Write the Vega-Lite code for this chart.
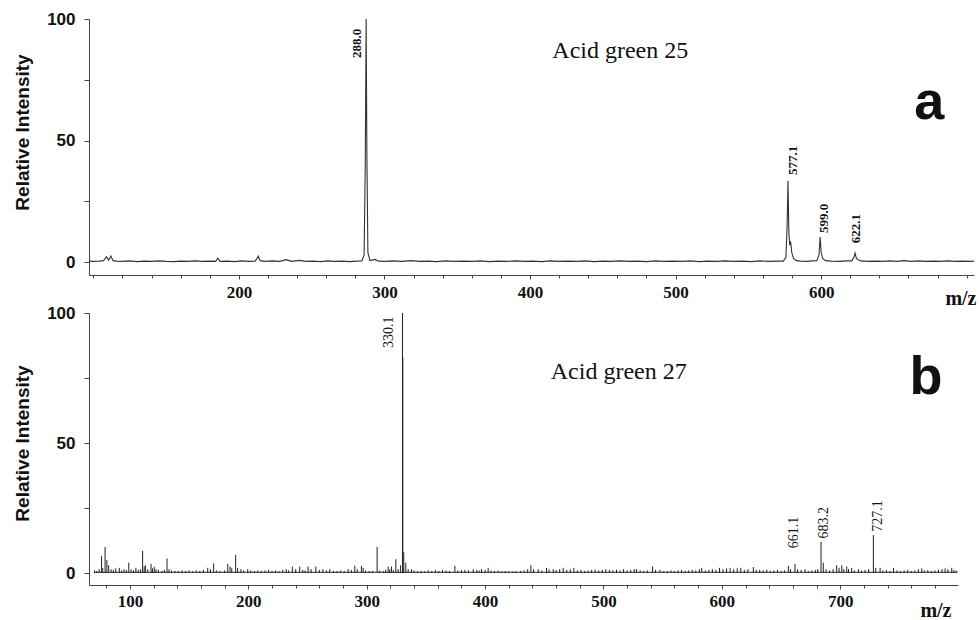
{
  "$schema": "https://vega.github.io/schema/vega-lite/v6.json",
  "background": "white",
  "padding": {"left": 13, "top": 10, "right": 0, "bottom": 0},
  "spacing": 38,
  "bounds": "flush",
  "config": {
    "view": {"stroke": null},
    "axis": {
      "grid": false,
      "domainColor": "#444",
      "tickColor": "#444",
      "labelColor": "#111",
      "titleColor": "#111",
      "labelFlush": false
    }
  },
  "datasets": {
    "specA": [
      {"mz": 97, "intensity": 0.5}, {"mz": 100, "intensity": 0.3}, {"mz": 104, "intensity": 0.4}, {"mz": 107, "intensity": 0.6},
      {"mz": 109, "intensity": 2.2}, {"mz": 110.5, "intensity": 0.8}, {"mz": 112, "intensity": 2.5}, {"mz": 113.5, "intensity": 0.6},
      {"mz": 116, "intensity": 0.4}, {"mz": 120, "intensity": 0.3}, {"mz": 125, "intensity": 0.5}, {"mz": 130, "intensity": 0.2},
      {"mz": 135, "intensity": 0.4}, {"mz": 140, "intensity": 0.3}, {"mz": 145, "intensity": 0.5}, {"mz": 150, "intensity": 0.3},
      {"mz": 155, "intensity": 0.2}, {"mz": 160, "intensity": 0.4}, {"mz": 165, "intensity": 0.3}, {"mz": 170, "intensity": 0.5},
      {"mz": 175, "intensity": 0.3}, {"mz": 180, "intensity": 0.4}, {"mz": 184, "intensity": 0.3}, {"mz": 185.5, "intensity": 1.6},
      {"mz": 187, "intensity": 0.3}, {"mz": 192, "intensity": 0.4}, {"mz": 197, "intensity": 0.2}, {"mz": 202, "intensity": 0.5},
      {"mz": 207, "intensity": 0.3}, {"mz": 211, "intensity": 0.4}, {"mz": 212.5, "intensity": 1.5}, {"mz": 213.3, "intensity": 2.5},
      {"mz": 214.5, "intensity": 0.6}, {"mz": 218, "intensity": 0.3}, {"mz": 223, "intensity": 0.5}, {"mz": 228, "intensity": 0.3},
      {"mz": 232.5, "intensity": 1.0}, {"mz": 236, "intensity": 0.3}, {"mz": 241.5, "intensity": 0.7}, {"mz": 246, "intensity": 0.3},
      {"mz": 251, "intensity": 0.4}, {"mz": 256, "intensity": 0.2}, {"mz": 261, "intensity": 0.5}, {"mz": 266, "intensity": 0.3},
      {"mz": 271, "intensity": 0.4}, {"mz": 276, "intensity": 0.2}, {"mz": 281, "intensity": 0.4}, {"mz": 284.5, "intensity": 0.5},
      {"mz": 286, "intensity": 3}, {"mz": 286.8, "intensity": 40}, {"mz": 287.4, "intensity": 100}, {"mz": 287.9, "intensity": 45},
      {"mz": 288.6, "intensity": 4}, {"mz": 290, "intensity": 0.6}, {"mz": 293.5, "intensity": 1.1}, {"mz": 296, "intensity": 0.4},
      {"mz": 300, "intensity": 0.3}, {"mz": 306, "intensity": 0.5}, {"mz": 312, "intensity": 0.3}, {"mz": 318, "intensity": 0.6},
      {"mz": 324, "intensity": 0.3}, {"mz": 330, "intensity": 0.4}, {"mz": 336, "intensity": 0.2}, {"mz": 342, "intensity": 0.5},
      {"mz": 348, "intensity": 0.3}, {"mz": 354, "intensity": 0.4}, {"mz": 360, "intensity": 0.3}, {"mz": 366, "intensity": 0.5},
      {"mz": 372, "intensity": 0.2}, {"mz": 378, "intensity": 0.4}, {"mz": 384, "intensity": 0.3}, {"mz": 390, "intensity": 0.5},
      {"mz": 396, "intensity": 0.3}, {"mz": 402, "intensity": 0.4}, {"mz": 408, "intensity": 0.2}, {"mz": 414, "intensity": 0.5},
      {"mz": 420, "intensity": 0.3}, {"mz": 426, "intensity": 0.4}, {"mz": 432, "intensity": 0.3}, {"mz": 438, "intensity": 0.5},
      {"mz": 444, "intensity": 0.2}, {"mz": 450, "intensity": 0.4}, {"mz": 456, "intensity": 0.3}, {"mz": 462, "intensity": 0.5},
      {"mz": 468, "intensity": 0.3}, {"mz": 474, "intensity": 0.4}, {"mz": 480, "intensity": 0.2}, {"mz": 486, "intensity": 0.5},
      {"mz": 492, "intensity": 0.3}, {"mz": 498, "intensity": 0.4}, {"mz": 504, "intensity": 0.3}, {"mz": 510, "intensity": 0.5},
      {"mz": 516, "intensity": 0.2}, {"mz": 522, "intensity": 0.4}, {"mz": 528, "intensity": 0.3}, {"mz": 534, "intensity": 0.5},
      {"mz": 540, "intensity": 0.3}, {"mz": 546, "intensity": 0.4}, {"mz": 552, "intensity": 0.2}, {"mz": 558, "intensity": 0.5},
      {"mz": 564, "intensity": 0.3}, {"mz": 570, "intensity": 0.4}, {"mz": 574, "intensity": 0.4}, {"mz": 575.8, "intensity": 2},
      {"mz": 576.6, "intensity": 15}, {"mz": 577.2, "intensity": 33.5}, {"mz": 577.8, "intensity": 12}, {"mz": 578.4, "intensity": 7},
      {"mz": 579, "intensity": 8.5}, {"mz": 579.8, "intensity": 4}, {"mz": 581, "intensity": 1.5}, {"mz": 583, "intensity": 0.6},
      {"mz": 586, "intensity": 0.4}, {"mz": 590, "intensity": 0.3}, {"mz": 594, "intensity": 0.5}, {"mz": 597, "intensity": 0.6},
      {"mz": 598.5, "intensity": 3}, {"mz": 599.3, "intensity": 10.3}, {"mz": 600, "intensity": 4}, {"mz": 601, "intensity": 1.5},
      {"mz": 603, "intensity": 0.6}, {"mz": 607, "intensity": 0.4}, {"mz": 612, "intensity": 0.3}, {"mz": 617, "intensity": 0.5},
      {"mz": 621, "intensity": 0.5}, {"mz": 622.5, "intensity": 2}, {"mz": 623.3, "intensity": 3.7}, {"mz": 624.2, "intensity": 1.5},
      {"mz": 625.5, "intensity": 1}, {"mz": 627, "intensity": 0.5}, {"mz": 632, "intensity": 0.3}, {"mz": 637, "intensity": 0.4},
      {"mz": 642, "intensity": 0.3}, {"mz": 647, "intensity": 0.5}, {"mz": 652, "intensity": 0.3}, {"mz": 657, "intensity": 0.6},
      {"mz": 662, "intensity": 0.3}, {"mz": 667, "intensity": 0.5}, {"mz": 672, "intensity": 0.3}, {"mz": 677, "intensity": 0.4},
      {"mz": 682, "intensity": 0.3}, {"mz": 687, "intensity": 0.5}, {"mz": 692, "intensity": 0.3}, {"mz": 697, "intensity": 0.4},
      {"mz": 702, "intensity": 0.3}, {"mz": 705, "intensity": 0.4}
    ],
    "labelsA": [
      {"label": "288.0", "mz": 281.2, "intensity": 84},
      {"label": "577.1", "mz": 580.8, "intensity": 35.8},
      {"label": "599.0", "mz": 602, "intensity": 12},
      {"label": "622.1", "mz": 623.8, "intensity": 7.8}
    ],
    "notesA": [
      {"text": "Acid green 25", "mz": 415.3, "intensity": 87, "kind": "name"},
      {"text": "a", "mz": 674.2, "intensity": 65.4, "kind": "panel"}
    ],
    "baseB": [
      {"mz": 70, "intensity": 0.3}, {"mz": 799, "intensity": 0.3}
    ],
    "specB": [
      {"mz": 70, "intensity": 1.0}, {"mz": 72, "intensity": 0.8}, {"mz": 74, "intensity": 1.5}, {"mz": 76, "intensity": 6.5},
      {"mz": 77, "intensity": 2}, {"mz": 79, "intensity": 10}, {"mz": 80.5, "intensity": 5}, {"mz": 82, "intensity": 3},
      {"mz": 84, "intensity": 1.5}, {"mz": 86, "intensity": 1.2}, {"mz": 88, "intensity": 1.8}, {"mz": 91, "intensity": 2},
      {"mz": 93, "intensity": 1}, {"mz": 95, "intensity": 1.5}, {"mz": 97, "intensity": 1.2}, {"mz": 99, "intensity": 4},
      {"mz": 101, "intensity": 1.5}, {"mz": 103, "intensity": 1}, {"mz": 105, "intensity": 2}, {"mz": 107, "intensity": 1.3},
      {"mz": 109, "intensity": 1.5}, {"mz": 110.7, "intensity": 8.5}, {"mz": 112, "intensity": 2.5}, {"mz": 113, "intensity": 3},
      {"mz": 115, "intensity": 1.5}, {"mz": 117.8, "intensity": 3.5}, {"mz": 119, "intensity": 1.8}, {"mz": 120.5, "intensity": 2.5},
      {"mz": 122, "intensity": 1.5}, {"mz": 124, "intensity": 1.2}, {"mz": 127, "intensity": 0.8}, {"mz": 129, "intensity": 1.2},
      {"mz": 131.3, "intensity": 5.6}, {"mz": 133, "intensity": 1.5}, {"mz": 135, "intensity": 1}, {"mz": 138, "intensity": 0.8},
      {"mz": 141, "intensity": 0.8}, {"mz": 144, "intensity": 1}, {"mz": 147, "intensity": 0.8}, {"mz": 150, "intensity": 1},
      {"mz": 153, "intensity": 0.7}, {"mz": 156, "intensity": 1}, {"mz": 159, "intensity": 0.8}, {"mz": 162, "intensity": 1.2},
      {"mz": 165.7, "intensity": 2}, {"mz": 168, "intensity": 1.5}, {"mz": 170.7, "intensity": 3.7}, {"mz": 173, "intensity": 1},
      {"mz": 176, "intensity": 0.8}, {"mz": 180, "intensity": 1}, {"mz": 182.6, "intensity": 3.5}, {"mz": 184.5, "intensity": 2.5},
      {"mz": 186, "intensity": 2}, {"mz": 189.3, "intensity": 7}, {"mz": 191, "intensity": 2}, {"mz": 193.8, "intensity": 1.5},
      {"mz": 196, "intensity": 1}, {"mz": 199.5, "intensity": 1.5}, {"mz": 202, "intensity": 1}, {"mz": 205, "intensity": 0.8},
      {"mz": 208, "intensity": 1}, {"mz": 211, "intensity": 0.8}, {"mz": 214, "intensity": 1}, {"mz": 217, "intensity": 1.2},
      {"mz": 220, "intensity": 0.8}, {"mz": 223, "intensity": 1}, {"mz": 226, "intensity": 0.7}, {"mz": 229, "intensity": 1.2},
      {"mz": 232, "intensity": 1.5}, {"mz": 234, "intensity": 1}, {"mz": 237.2, "intensity": 2.5}, {"mz": 240, "intensity": 1.5},
      {"mz": 243.4, "intensity": 2.5}, {"mz": 246, "intensity": 1.2}, {"mz": 248, "intensity": 1}, {"mz": 250.5, "intensity": 2.5},
      {"mz": 253, "intensity": 1.5}, {"mz": 257, "intensity": 2.5}, {"mz": 260, "intensity": 1.2}, {"mz": 263, "intensity": 1.5},
      {"mz": 266, "intensity": 1}, {"mz": 268.8, "intensity": 1.5}, {"mz": 272, "intensity": 0.8}, {"mz": 275, "intensity": 0.8},
      {"mz": 278, "intensity": 1}, {"mz": 281, "intensity": 0.8}, {"mz": 284.3, "intensity": 1.5}, {"mz": 287, "intensity": 1.2},
      {"mz": 289.9, "intensity": 2.8}, {"mz": 292, "intensity": 1.5}, {"mz": 295.5, "intensity": 2.8}, {"mz": 297, "intensity": 2},
      {"mz": 299, "intensity": 1}, {"mz": 302, "intensity": 0.8}, {"mz": 305, "intensity": 0.8}, {"mz": 308.8, "intensity": 10},
      {"mz": 311, "intensity": 1}, {"mz": 314, "intensity": 0.8}, {"mz": 316, "intensity": 1.2}, {"mz": 318.1, "intensity": 2.5},
      {"mz": 319.5, "intensity": 1.5}, {"mz": 320.9, "intensity": 2.5}, {"mz": 322.5, "intensity": 1.2}, {"mz": 324.6, "intensity": 5.3},
      {"mz": 326.5, "intensity": 1.5}, {"mz": 328.5, "intensity": 3}, {"mz": 330.2, "intensity": 100}, {"mz": 330.5, "intensity": 83},
      {"mz": 331.3, "intensity": 8}, {"mz": 333, "intensity": 4}, {"mz": 335, "intensity": 1.5}, {"mz": 337.8, "intensity": 1.5},
      {"mz": 340, "intensity": 1}, {"mz": 343, "intensity": 0.7}, {"mz": 346, "intensity": 0.8}, {"mz": 349, "intensity": 0.7},
      {"mz": 352, "intensity": 1}, {"mz": 355, "intensity": 0.8}, {"mz": 358, "intensity": 1.2}, {"mz": 361, "intensity": 0.8},
      {"mz": 364, "intensity": 1.2}, {"mz": 367, "intensity": 1}, {"mz": 370, "intensity": 0.8}, {"mz": 374.5, "intensity": 2.8},
      {"mz": 377, "intensity": 1}, {"mz": 380, "intensity": 1.2}, {"mz": 383, "intensity": 1.2}, {"mz": 386, "intensity": 1},
      {"mz": 390, "intensity": 1.5}, {"mz": 393, "intensity": 1.2}, {"mz": 395, "intensity": 1}, {"mz": 397, "intensity": 1.5},
      {"mz": 400, "intensity": 1.2}, {"mz": 402.6, "intensity": 2}, {"mz": 405, "intensity": 1}, {"mz": 408, "intensity": 0.8},
      {"mz": 411, "intensity": 1}, {"mz": 414, "intensity": 0.7}, {"mz": 417, "intensity": 0.8}, {"mz": 420, "intensity": 0.7},
      {"mz": 423, "intensity": 0.6}, {"mz": 426, "intensity": 0.7}, {"mz": 430, "intensity": 0.8}, {"mz": 433, "intensity": 1},
      {"mz": 436, "intensity": 1.5}, {"mz": 438.7, "intensity": 3}, {"mz": 441, "intensity": 1.5}, {"mz": 444.9, "intensity": 1.5},
      {"mz": 448, "intensity": 1}, {"mz": 451.9, "intensity": 2}, {"mz": 454, "intensity": 1.5}, {"mz": 457.6, "intensity": 1.5},
      {"mz": 460, "intensity": 1.2}, {"mz": 463, "intensity": 1.5}, {"mz": 466, "intensity": 2}, {"mz": 469, "intensity": 1.2},
      {"mz": 472, "intensity": 1.5}, {"mz": 475, "intensity": 2}, {"mz": 478, "intensity": 1}, {"mz": 481, "intensity": 1.2},
      {"mz": 484, "intensity": 0.8}, {"mz": 487, "intensity": 1}, {"mz": 490, "intensity": 1.2}, {"mz": 493, "intensity": 1.3},
      {"mz": 496, "intensity": 1}, {"mz": 499, "intensity": 1.2}, {"mz": 502, "intensity": 1.5}, {"mz": 505, "intensity": 1.2},
      {"mz": 508, "intensity": 1}, {"mz": 511, "intensity": 1.3}, {"mz": 514, "intensity": 1}, {"mz": 517, "intensity": 1.5},
      {"mz": 520, "intensity": 1}, {"mz": 523, "intensity": 1.2}, {"mz": 526, "intensity": 1.5}, {"mz": 528, "intensity": 1.5},
      {"mz": 531, "intensity": 1}, {"mz": 534, "intensity": 0.8}, {"mz": 537, "intensity": 1}, {"mz": 541.5, "intensity": 2.5},
      {"mz": 544, "intensity": 1.2}, {"mz": 547.7, "intensity": 1.2}, {"mz": 551, "intensity": 0.8}, {"mz": 554, "intensity": 0.8},
      {"mz": 557, "intensity": 1}, {"mz": 560, "intensity": 0.8}, {"mz": 563, "intensity": 1}, {"mz": 566, "intensity": 1.2},
      {"mz": 569, "intensity": 0.8}, {"mz": 572, "intensity": 1}, {"mz": 575, "intensity": 1.2}, {"mz": 578, "intensity": 1},
      {"mz": 581, "intensity": 1.5}, {"mz": 583, "intensity": 2}, {"mz": 586, "intensity": 1}, {"mz": 589, "intensity": 1.2},
      {"mz": 592, "intensity": 1.5}, {"mz": 595, "intensity": 1.2}, {"mz": 598, "intensity": 2}, {"mz": 601, "intensity": 1.5},
      {"mz": 604, "intensity": 1.8}, {"mz": 607, "intensity": 2}, {"mz": 610, "intensity": 1.5}, {"mz": 613, "intensity": 1.8},
      {"mz": 616, "intensity": 2}, {"mz": 619, "intensity": 1.2}, {"mz": 622, "intensity": 1.5}, {"mz": 626.6, "intensity": 2.3},
      {"mz": 629, "intensity": 1.3}, {"mz": 632, "intensity": 1.2}, {"mz": 635, "intensity": 1}, {"mz": 638, "intensity": 1.3},
      {"mz": 641, "intensity": 0.8}, {"mz": 644, "intensity": 1}, {"mz": 647, "intensity": 1.2}, {"mz": 650, "intensity": 0.8},
      {"mz": 653, "intensity": 1}, {"mz": 656.2, "intensity": 2.8}, {"mz": 658, "intensity": 1.5}, {"mz": 661.8, "intensity": 3.5},
      {"mz": 664, "intensity": 1.5}, {"mz": 667, "intensity": 1.2}, {"mz": 670.3, "intensity": 1.5}, {"mz": 673, "intensity": 0.8},
      {"mz": 676, "intensity": 1}, {"mz": 679, "intensity": 1.2}, {"mz": 681, "intensity": 1.5}, {"mz": 683.8, "intensity": 12},
      {"mz": 685.7, "intensity": 4}, {"mz": 688, "intensity": 1.5}, {"mz": 691, "intensity": 1}, {"mz": 694, "intensity": 1.5},
      {"mz": 697, "intensity": 3}, {"mz": 699, "intensity": 2}, {"mz": 701.3, "intensity": 3}, {"mz": 703, "intensity": 1.5},
      {"mz": 705.5, "intensity": 2.5}, {"mz": 707, "intensity": 1.5}, {"mz": 709.7, "intensity": 2}, {"mz": 712, "intensity": 1},
      {"mz": 715.4, "intensity": 1.5}, {"mz": 718, "intensity": 1}, {"mz": 721, "intensity": 1.2}, {"mz": 724, "intensity": 1.5},
      {"mz": 728, "intensity": 14.6}, {"mz": 730, "intensity": 2}, {"mz": 733.7, "intensity": 2}, {"mz": 736, "intensity": 1},
      {"mz": 739, "intensity": 1.2}, {"mz": 742, "intensity": 0.8}, {"mz": 745, "intensity": 2}, {"mz": 748, "intensity": 1},
      {"mz": 751, "intensity": 0.8}, {"mz": 754, "intensity": 1}, {"mz": 757, "intensity": 1.2}, {"mz": 760, "intensity": 0.8},
      {"mz": 763, "intensity": 1}, {"mz": 766, "intensity": 1.5}, {"mz": 768.9, "intensity": 1.8}, {"mz": 771, "intensity": 1},
      {"mz": 774, "intensity": 1.2}, {"mz": 777, "intensity": 0.8}, {"mz": 780, "intensity": 1}, {"mz": 783, "intensity": 1.2},
      {"mz": 786, "intensity": 1.5}, {"mz": 788.6, "intensity": 1.8}, {"mz": 791, "intensity": 1.5}, {"mz": 794.2, "intensity": 2},
      {"mz": 796, "intensity": 1.2}, {"mz": 798, "intensity": 1}
    ],
    "labelsB": [
      {"label": "330.1", "mz": 318.9, "intensity": 86.5},
      {"label": "661.1", "mz": 660.6, "intensity": 9.5},
      {"label": "683.2", "mz": 686.2, "intensity": 13.3},
      {"label": "727.1", "mz": 731.9, "intensity": 15.9}
    ],
    "notesB": [
      {"text": "Acid green 27", "mz": 455.5, "intensity": 77.4, "kind": "name"},
      {"text": "b", "mz": 772.4, "intensity": 69, "kind": "panel"}
    ]
  },
  "vconcat": [
    {
      "width": 885,
      "height": 256,
      "resolve": {"axis": {"x": "independent"}},
      "layer": [
        {
          "data": {"name": "specA"},
          "mark": {"type": "line", "color": "#333", "strokeWidth": 1.1, "interpolate": "linear"},
          "encoding": {
            "x": {
              "field": "mz", "type": "quantitative",
              "scale": {"domain": [97, 705], "nice": false, "zero": false},
              "axis": {
                "orient": "bottom",
                "values": [200, 300, 400, 500, 600],
                "labelOverlap": false,
                "tickSize": 4,
                "labelPadding": 5,
                "labelFont": "Liberation Serif",
                "labelFontWeight": "bold",
                "labelFontSize": 17,
                "title": "m/z",
                "titleFont": "Liberation Serif",
                "titleFontWeight": "bold",
                "titleFontSize": 20,
                "titleAlign": "right",
                "titleBaseline": "middle",
                "titleX": 887,
                "titleY": 23
              }
            },
            "y": {
              "field": "intensity", "type": "quantitative",
              "scale": {"domain": [-5.3, 100], "nice": false, "zero": false},
              "axis": {
                "values": [0, 25, 50, 75, 100],
                "labelExpr": "datum.value == 25 || datum.value == 75 ? '' : datum.label",
                "labelOverlap": false,
                "tickSize": 5,
                "labelPadding": 9,
                "labelFont": "Liberation Sans",
                "labelFontWeight": "bold",
                "labelFontSize": 17,
                "title": "Relative Intensity",
                "titleFont": "Liberation Sans",
                "titleFontWeight": "bold",
                "titleFontSize": 19,
                "titlePadding": 14,
                "titleY": 113
              }
            }
          }
        },
        {
          "data": {"name": "labelsA"},
          "mark": {"type": "text", "angle": 270, "align": "left", "baseline": "middle", "font": "Liberation Serif", "fontWeight": "bold", "fontSize": 13, "color": "#111"},
          "encoding": {
            "x": {
              "field": "mz", "type": "quantitative", "scale": {"domain": [97, 705], "nice": false, "zero": false},
              "axis": {
                "orient": "bottom",
                "values": [100,120,140,160,180,220,240,260,280,320,340,360,380,420,440,460,480,520,540,560,580,620,640,660,680,700],
                "labels": false,
                "domain": false,
                "title": null,
                "tickSize": 3
              }
            },
            "y": {"field": "intensity", "type": "quantitative", "scale": {"domain": [-5.3, 100], "nice": false, "zero": false}},
            "text": {"field": "label"}
          }
        },
        {
          "data": {"name": "notesA"},
          "transform": [{"filter": "datum.kind === 'name'"}],
          "mark": {"type": "text", "align": "left", "baseline": "middle", "font": "Liberation Serif", "fontSize": 24, "color": "#111"},
          "encoding": {
            "x": {"field": "mz", "type": "quantitative", "scale": {"domain": [97, 705], "nice": false, "zero": false}, "axis": null},
            "y": {"field": "intensity", "type": "quantitative", "scale": {"domain": [-5.3, 100], "nice": false, "zero": false}},
            "text": {"field": "text"}
          }
        },
        {
          "data": {"name": "notesA"},
          "transform": [{"filter": "datum.kind === 'panel'"}],
          "mark": {"type": "text", "align": "center", "baseline": "middle", "font": "Liberation Sans", "fontWeight": "bold", "fontSize": 54, "color": "#111"},
          "encoding": {
            "x": {"field": "mz", "type": "quantitative", "scale": {"domain": [97, 705], "nice": false, "zero": false}, "axis": null},
            "y": {"field": "intensity", "type": "quantitative", "scale": {"domain": [-5.3, 100], "nice": false, "zero": false}},
            "text": {"field": "text"}
          }
        }
      ]
    },
    {
      "width": 869,
      "height": 272,
      "resolve": {"axis": {"x": "independent"}},
      "layer": [
        {
          "data": {"name": "baseB"},
          "mark": {"type": "line", "color": "#222", "strokeWidth": 1},
          "encoding": {
            "x": {
              "field": "mz", "type": "quantitative",
              "scale": {"domain": [65.4, 799.5], "nice": false, "zero": false},
              "axis": {
                "orient": "bottom",
                "values": [100, 200, 300, 400, 500, 600, 700],
                "labelOverlap": false,
                "tickSize": 4,
                "labelPadding": 4,
                "labelFont": "Liberation Serif",
                "labelFontWeight": "bold",
                "labelFontSize": 17,
                "title": "m/z",
                "titleFont": "Liberation Serif",
                "titleFontWeight": "bold",
                "titleFontSize": 20,
                "titleAlign": "right",
                "titleBaseline": "middle",
                "titleX": 862,
                "titleY": 25
              }
            },
            "y": {
              "field": "intensity", "type": "quantitative",
              "scale": {"domain": [-4.6, 100], "nice": false, "zero": false},
              "axis": {
                "values": [0, 25, 50, 75, 100],
                "labelExpr": "datum.value == 25 || datum.value == 75 ? '' : datum.label",
                "labelOverlap": false,
                "tickSize": 5,
                "labelPadding": 9,
                "labelFont": "Liberation Sans",
                "labelFontWeight": "bold",
                "labelFontSize": 17,
                "title": "Relative Intensity",
                "titleFont": "Liberation Sans",
                "titleFontWeight": "bold",
                "titleFontSize": 19,
                "titlePadding": 14,
                "titleY": 130
              }
            }
          }
        },
        {
          "data": {"name": "specB"},
          "mark": {"type": "rule", "color": "#222", "strokeWidth": 1},
          "encoding": {
            "x": {
              "field": "mz", "type": "quantitative", "scale": {"domain": [65.4, 799.5], "nice": false, "zero": false},
              "axis": {
                "orient": "bottom",
                "values": [80,120,140,160,180,220,240,260,280,320,340,360,380,420,440,460,480,520,540,560,580,620,640,660,680,720,740,760,780],
                "labels": false,
                "domain": false,
                "title": null,
                "tickSize": 3
              }
            },
            "y": {"field": "intensity", "type": "quantitative", "scale": {"domain": [-4.6, 100], "nice": false, "zero": false}},
            "y2": {"datum": 0}
          }
        },
        {
          "data": {"name": "labelsB"},
          "mark": {"type": "text", "angle": 270, "align": "left", "baseline": "middle", "font": "Liberation Serif", "fontSize": 14, "color": "#111"},
          "encoding": {
            "x": {"field": "mz", "type": "quantitative", "scale": {"domain": [65.4, 799.5], "nice": false, "zero": false}, "axis": null},
            "y": {"field": "intensity", "type": "quantitative", "scale": {"domain": [-4.6, 100], "nice": false, "zero": false}},
            "text": {"field": "label"}
          }
        },
        {
          "data": {"name": "notesB"},
          "transform": [{"filter": "datum.kind === 'name'"}],
          "mark": {"type": "text", "align": "left", "baseline": "middle", "font": "Liberation Serif", "fontSize": 24, "color": "#111"},
          "encoding": {
            "x": {"field": "mz", "type": "quantitative", "scale": {"domain": [65.4, 799.5], "nice": false, "zero": false}, "axis": null},
            "y": {"field": "intensity", "type": "quantitative", "scale": {"domain": [-4.6, 100], "nice": false, "zero": false}},
            "text": {"field": "text"}
          }
        },
        {
          "data": {"name": "notesB"},
          "transform": [{"filter": "datum.kind === 'panel'"}],
          "mark": {"type": "text", "align": "center", "baseline": "alphabetic", "font": "Liberation Sans", "fontWeight": "bold", "fontSize": 54, "color": "#111"},
          "encoding": {
            "x": {"field": "mz", "type": "quantitative", "scale": {"domain": [65.4, 799.5], "nice": false, "zero": false}, "axis": null},
            "y": {"field": "intensity", "type": "quantitative", "scale": {"domain": [-4.6, 100], "nice": false, "zero": false}},
            "text": {"field": "text"}
          }
        }
      ]
    }
  ]
}
